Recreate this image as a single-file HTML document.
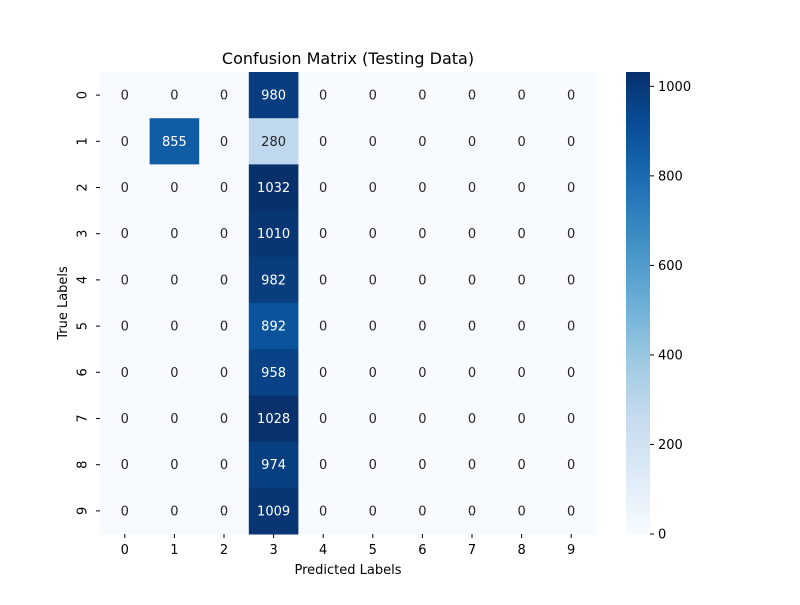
<!DOCTYPE html>
<html><head><meta charset="utf-8"><style>
body{margin:0;background:#fff;}
svg{font-family:"DejaVu Sans","Liberation Sans",sans-serif;}
</style></head><body>
<svg id="s" width="800" height="600"></svg>
<script>
const xLabels=["0","1","2","3","4","5","6","7","8","9"];
const yLabels=["0","1","2","3","4","5","6","7","8","9"];
const matrix=[
[0,0,0,980,0,0,0,0,0,0],
[0,855,0,280,0,0,0,0,0,0],
[0,0,0,1032,0,0,0,0,0,0],
[0,0,0,1010,0,0,0,0,0,0],
[0,0,0,982,0,0,0,0,0,0],
[0,0,0,892,0,0,0,0,0,0],
[0,0,0,958,0,0,0,0,0,0],
[0,0,0,1028,0,0,0,0,0,0],
[0,0,0,974,0,0,0,0,0,0],
[0,0,0,1009,0,0,0,0,0,0]];
const cbTicks=[0,200,400,600,800,1000];

const NS="http://www.w3.org/2000/svg";
const svg=document.getElementById('s');
function mk(t,a,txt){const e=document.createElementNS(NS,t);for(const k in a)e.setAttribute(k,a[k]);if(txt!==undefined)e.textContent=txt;svg.appendChild(e);return e;}
const stops=["#f7fbff","#deebf7","#c6dbef","#9ecae1","#6baed6","#4292c6","#2171b5","#08519c","#08306b"].map(h=>[parseInt(h.substr(1,2),16),parseInt(h.substr(3,2),16),parseInt(h.substr(5,2),16)]);
function cmap(t){t=Math.max(0,Math.min(1,t));const p=t*(stops.length-1);const i=Math.min(Math.floor(p),stops.length-2);const f=p-i;const a=stops[i],b=stops[i+1];return `rgb(${a.map((v,j)=>Math.round(v+(b[j]-v)*f)).join(',')})`;}
let vmax=0;matrix.forEach(r=>r.forEach(v=>{if(v>vmax)vmax=v;}));
const L=100,T=72,W=496,H=462;
const cw=W/xLabels.length,ch=H/yLabels.length;
const xs=i=>L+i*cw, ys=j=>T+j*ch;
matrix.forEach((row,j)=>row.forEach((v,i)=>{
 const r=mk('rect',{x:xs(i),y:ys(j),width:cw+0.5,height:ch+0.5,fill:cmap(v/vmax)});
 
 
 const t=mk('text',{x:xs(i)+cw/2,y:ys(j)+ch/2+4.5,'text-anchor':'middle','font-size':13,fill:(v/vmax>0.5)?'#fff':'#262626'},String(v));
 
 
}));
xLabels.forEach((l,i)=>{const x=xs(i)+cw/2;mk('line',{x1:x,x2:x,y1:T+H,y2:T+H+4,stroke:'#000'});
 const t=mk('text',{x:x,y:T+H+20,'text-anchor':'middle','font-size':13},l);
 });
yLabels.forEach((l,j)=>{const y=ys(j)+ch/2;mk('line',{x1:L-4,x2:L,y1:y,y2:y,stroke:'#000'});
 const t=mk('text',{x:L-17,y:y,'text-anchor':'middle','font-size':13,transform:`rotate(-90 ${L-17} ${y})`,'dominant-baseline':'central'},l);
 });
mk('text',{x:348,y:64,'text-anchor':'middle','font-size':16,},'Confusion Matrix (Testing Data)');
mk('text',{x:348,y:574,'text-anchor':'middle','font-size':13,},'Predicted Labels');
mk('text',{x:67,y:303,'text-anchor':'middle','font-size':13,transform:'rotate(-90 67 303)',},'True Labels');
const CX=626,CW=24;
const cy=v=>T+H-v/vmax*H;
const defs=mk('defs',{});
const g=document.createElementNS(NS,'linearGradient');g.setAttribute('id','gr');g.setAttribute('x1','0');g.setAttribute('y1','1');g.setAttribute('x2','0');g.setAttribute('y2','0');defs.appendChild(g);
for(let k=0;k<=20;k++){const s=document.createElementNS(NS,'stop');s.setAttribute('offset',k/20);s.setAttribute('stop-color',cmap(k/20));g.appendChild(s);}
mk('rect',{x:CX,y:T,width:CW,height:H,fill:'url(#gr)',});
cbTicks.forEach(v=>{const y=cy(v);mk('line',{x1:CX+CW,x2:CX+CW+4,y1:y,y2:y,stroke:'#000'});
 const t=mk('text',{x:CX+CW+8,y:y+4.5,'font-size':13},String(v));
 });
</script></body></html>
